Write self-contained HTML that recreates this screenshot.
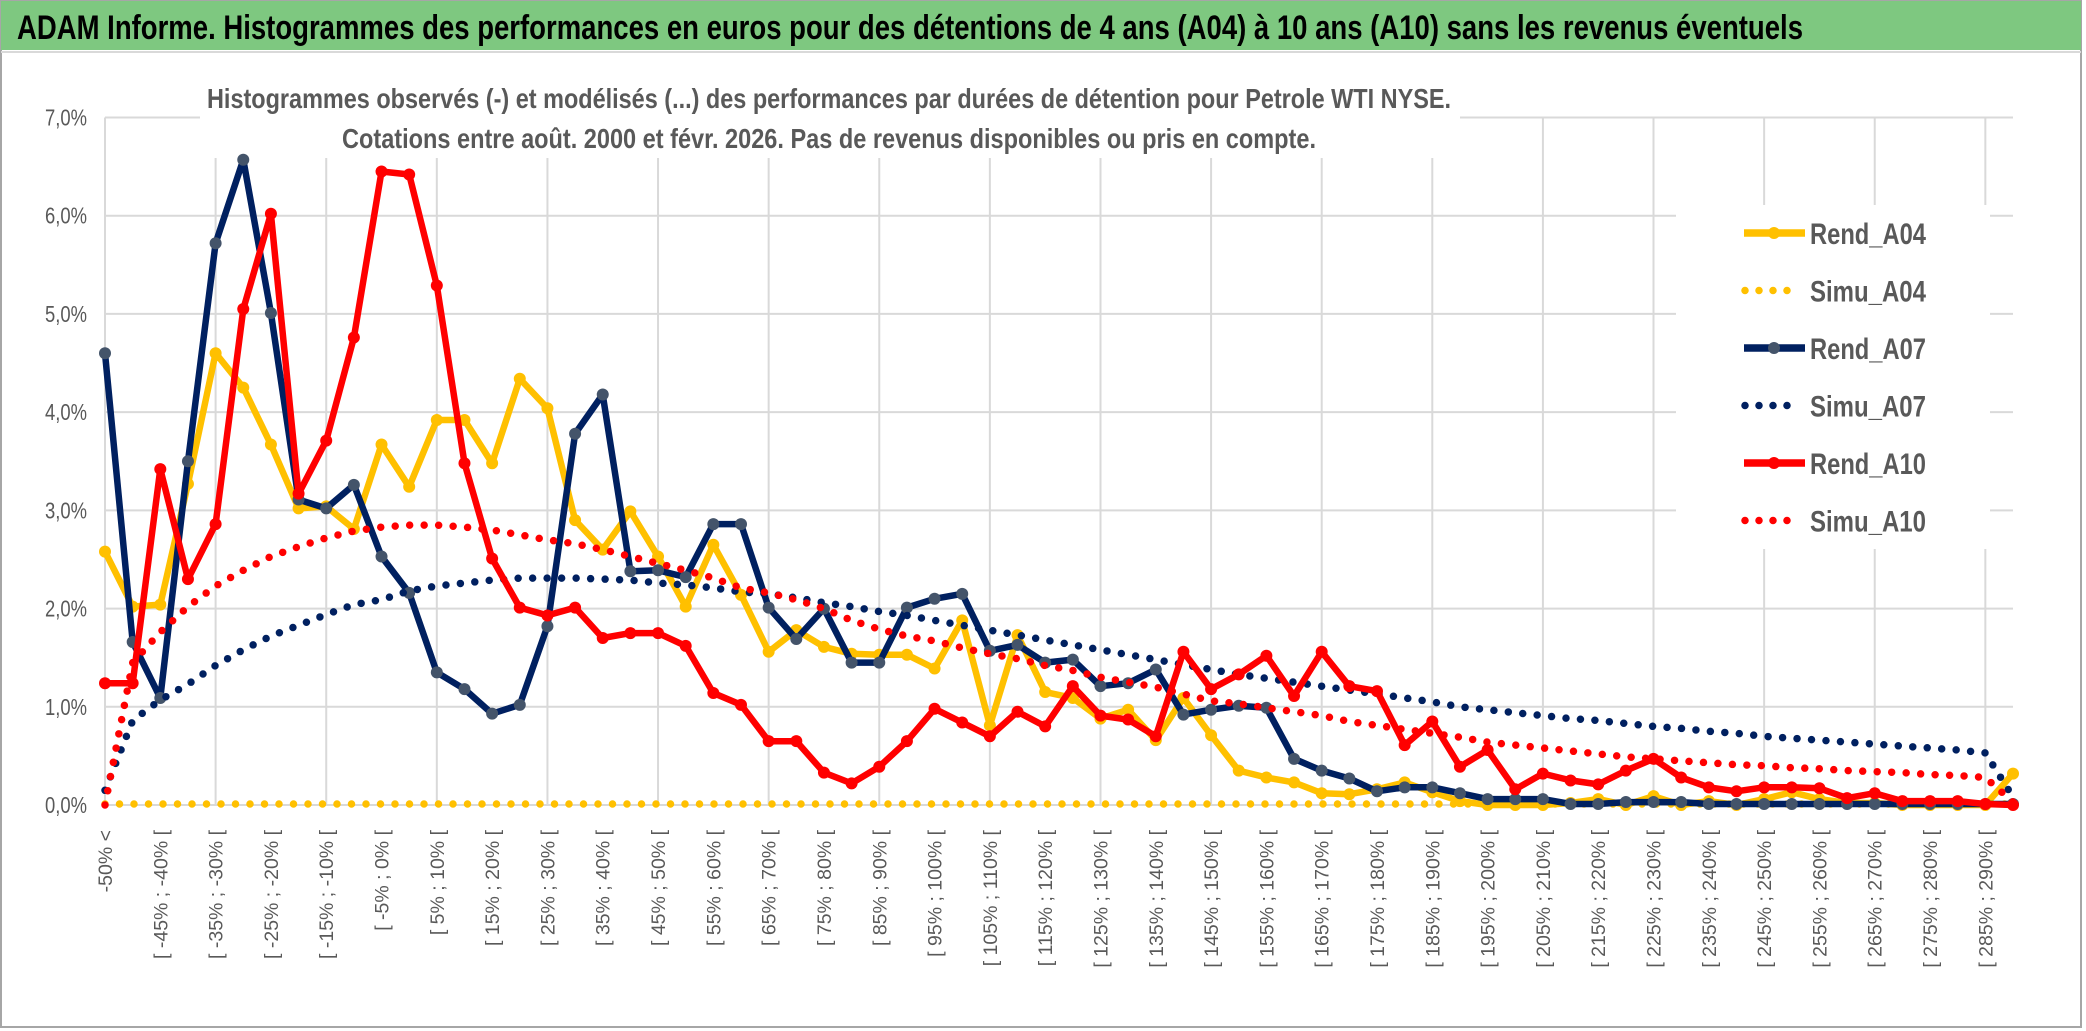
<!DOCTYPE html>
<html><head><meta charset="utf-8"><style>
html,body{margin:0;padding:0;background:#fff;}
svg{display:block;font-family:"Liberation Sans",sans-serif;}
</style></head><body>
<svg id="chart" width="2086" height="1031" viewBox="0 0 2086 1031" xmlns="http://www.w3.org/2000/svg">
<rect x="0" y="0" width="2086" height="1031" fill="#fff"/>
<rect x="1" y="1" width="2080" height="1026" fill="none" stroke="#a6a6a6" stroke-width="2"/>
<rect x="1" y="1" width="2080" height="49" fill="#7ec880"/>
<line x1="1" y1="52" x2="2081" y2="52" stroke="#d9d9d9" stroke-width="2"/>
<text x="17" y="39" font-size="34" font-weight="bold" fill="#000" textLength="1786" lengthAdjust="spacingAndGlyphs">ADAM Informe. Histogrammes des performances en euros pour des détentions de 4 ans (A04) à 10 ans (A10) sans les revenus éventuels</text>
<g id="grid"></g>
<rect x="200" y="60" width="1260" height="98" fill="#fff"/>
<text x="207" y="108" font-size="28" font-weight="bold" fill="#595959" textLength="1244" lengthAdjust="spacingAndGlyphs">Histogrammes observés (-) et modélisés (...) des performances par durées de détention pour Petrole WTI NYSE.</text>
<text x="342" y="148" font-size="28" font-weight="bold" fill="#595959" textLength="974" lengthAdjust="spacingAndGlyphs">Cotations entre août. 2000 et févr. 2026. Pas de revenus disponibles ou pris en compte.</text>
<rect x="1676" y="205" width="314" height="344" fill="#fff"/>
<g id="yaxis"></g>
<g id="xaxis"></g>
<g id="series"></g>
<g id="legend"></g>
</svg>
<script>
const rendA04 = [2.58,2.02,2.04,3.27,4.60,4.25,3.67,3.02,3.04,2.81,3.67,3.24,3.92,3.92,3.48,4.34,4.04,2.90,2.60,2.99,2.53,2.02,2.65,2.14,1.56,1.78,1.61,1.54,1.53,1.53,1.39,1.88,0.81,1.73,1.15,1.09,0.88,0.97,0.66,1.09,0.71,0.35,0.28,0.23,0.12,0.11,0.16,0.23,0.13,0.04,0.0,0.0,0.0,0.02,0.06,0.0,0.09,0.0,0.04,0.0,0.06,0.13,0.06,0.02,0.02,0.0,0.0,0.0,0.0,0.32];
const simuA04 = [0.01,0.01,0.01,0.01,0.01,0.01,0.01,0.01,0.01,0.01,0.01,0.01,0.01,0.01,0.01,0.01,0.01,0.01,0.01,0.01,0.01,0.01,0.01,0.01,0.01,0.01,0.01,0.01,0.01,0.01,0.01,0.01,0.01,0.01,0.01,0.01,0.01,0.01,0.01,0.01,0.01,0.01,0.01,0.01,0.01,0.01,0.01,0.01,0.01,0.01,0.01,0.01,0.01,0.01,0.01,0.01,0.01,0.01,0.01,0.01,0.01,0.01,0.01,0.01,0.01,0.01,0.01,0.01,0.01,0.01];
const rendA07 = [4.60,1.66,1.09,3.50,5.72,6.57,5.01,3.11,3.02,3.26,2.53,2.16,1.35,1.18,0.93,1.02,1.82,3.78,4.18,2.38,2.39,2.32,2.86,2.86,2.01,1.69,2.00,1.45,1.45,2.01,2.10,2.15,1.57,1.63,1.45,1.48,1.21,1.24,1.38,0.92,0.97,1.01,0.99,0.47,0.35,0.27,0.14,0.18,0.18,0.12,0.06,0.06,0.06,0.01,0.01,0.03,0.03,0.03,0.01,0.01,0.01,0.01,0.01,0.01,0.01,0.01,0.01,0.01,0.01,0.01];
const simuA07 = [0.15,0.86,1.07,1.23,1.42,1.58,1.72,1.83,1.94,2.04,2.09,2.18,2.23,2.26,2.29,2.31,2.31,2.31,2.30,2.29,2.26,2.24,2.21,2.17,2.15,2.11,2.06,2.02,1.97,1.93,1.88,1.83,1.78,1.73,1.68,1.63,1.58,1.53,1.48,1.43,1.38,1.33,1.29,1.25,1.21,1.17,1.13,1.09,1.05,1.00,0.97,0.94,0.91,0.88,0.86,0.83,0.80,0.78,0.75,0.73,0.70,0.68,0.66,0.64,0.62,0.60,0.58,0.56,0.53,0.08];
const rendA10 = [1.24,1.24,3.42,2.30,2.86,5.05,6.02,3.17,3.71,4.76,6.45,6.42,5.29,3.48,2.51,2.01,1.93,2.01,1.70,1.75,1.75,1.62,1.14,1.02,0.65,0.65,0.33,0.22,0.39,0.65,0.98,0.84,0.70,0.95,0.80,1.21,0.91,0.87,0.70,1.56,1.18,1.33,1.52,1.11,1.56,1.21,1.16,0.61,0.85,0.39,0.56,0.16,0.32,0.25,0.21,0.35,0.47,0.28,0.18,0.14,0.18,0.18,0.17,0.07,0.12,0.04,0.04,0.04,0.01,0.0];
const simuA10 = [0.0,1.45,1.76,2.02,2.23,2.39,2.53,2.63,2.72,2.79,2.83,2.85,2.85,2.83,2.80,2.75,2.70,2.66,2.60,2.53,2.46,2.39,2.31,2.21,2.16,2.09,2.00,1.88,1.79,1.72,1.67,1.60,1.54,1.49,1.42,1.37,1.30,1.25,1.20,1.13,1.06,1.03,0.99,0.95,0.91,0.85,0.81,0.77,0.73,0.69,0.64,0.61,0.58,0.55,0.52,0.49,0.47,0.45,0.43,0.41,0.40,0.38,0.37,0.35,0.34,0.33,0.31,0.30,0.28,0.03];
const yTicks = [0,1,2,3,4,5,6,7];
const yTickLabels = ["0,0%","1,0%","2,0%","3,0%","4,0%","5,0%","6,0%","7,0%"];
const categories = ["-50% <"];
for (let k = 1; k < 70; k++) categories.push("[ " + (-55 + 5 * k) + "% ; " + (-50 + 5 * k) + "% [");

const NS = "http://www.w3.org/2000/svg";
const X0 = 105, X1 = 2013, Y0 = 805, Y7 = 117.5;
function xPos(i) { return X0 + i * (X1 - X0) / (categories.length - 1); }
function yPos(v) { return Y0 - v * (Y0 - Y7) / 7; }
function mk(tag, attrs, parent) { const e = document.createElementNS(NS, tag); for (const k in attrs) e.setAttribute(k, attrs[k]); parent.appendChild(e); return e; }

const grid = document.getElementById('grid');
yTicks.forEach((t) => {
  const l = mk('line', {x1: X0, x2: X1, y1: yPos(t), y2: yPos(t), stroke: '#d9d9d9', 'stroke-width': 2}, grid);
  
  
});
for (let i = 0; i < categories.length; i += 4) {
  const l = mk('line', {x1: xPos(i), x2: xPos(i), y1: Y7, y2: Y0, stroke: '#d9d9d9', 'stroke-width': 2}, grid);
  
  
}

const yaxis = document.getElementById('yaxis');
yTicks.forEach((t, i) => {
  const tx = mk('text', {x: 87, y: yPos(t) + 8, 'font-size': 23, fill: '#595959', 'text-anchor': 'end', textLength: 42, lengthAdjust: 'spacingAndGlyphs'}, yaxis);
  tx.textContent = yTickLabels[i];
  
  
});

const xaxis = document.getElementById('xaxis');
for (let i = 0; i < categories.length; i += 2) {
  const x = xPos(i) + 7;
  const tx = mk('text', {x: x, y: 830, 'font-size': 19.5, fill: '#595959', 'text-anchor': 'end', transform: 'rotate(-90 ' + x + ' 830)'}, xaxis);
  tx.textContent = categories[i];
  
  
}

const series = document.getElementById('series');
function pts(arr) { return arr.map((v, i) => xPos(i).toFixed(1) + ',' + yPos(v).toFixed(1)).join(' '); }
function solid(arr, color, marker, name) {
  const g = mk('g', {}, series);
  
  
  const pl = mk('polyline', {points: pts(arr), fill: 'none', stroke: color, 'stroke-width': 6.5, 'stroke-linejoin': 'round'}, g);
  
  
  arr.forEach((v, i) => {
    const c = mk('circle', {cx: xPos(i), cy: yPos(v), r: 6, fill: marker}, g);
    
    
  });
}
function dotted(arr, color, name) {
  const pl = mk('polyline', {points: pts(arr), fill: 'none', stroke: color, 'stroke-width': 7.5, 'stroke-linecap': 'round', 'stroke-dasharray': '0 14.5'}, series);
  
  
}
solid(rendA04, '#ffc000', '#ffc000', 'rend-a04');
dotted(simuA04, '#ffc000', 'simu-a04');
solid(rendA07, '#002060', '#44546a', 'rend-a07');
dotted(simuA07, '#002060', 'simu-a07');
solid(rendA10, '#ff0000', '#ff0000', 'rend-a10');
dotted(simuA10, '#ff0000', 'simu-a10');

const legendNames = ["Rend_A04","Simu_A04","Rend_A07","Simu_A07","Rend_A10","Simu_A10"];
const legendColors = ["#ffc000","#ffc000","#002060","#002060","#ff0000","#ff0000"];
const legend = document.getElementById('legend');
legendNames.forEach((n, i) => {
  const y = 233 + i * 57.5;
  const g = mk('g', {}, legend);
  
  
  if (i % 2 === 0) {
    mk('line', {x1: 1744, x2: 1805, y1: y, y2: y, stroke: legendColors[i], 'stroke-width': 7.5}, g);
    mk('circle', {cx: 1774, cy: y, r: 6, fill: i === 2 ? '#44546a' : legendColors[i]}, g);
  } else {
    mk('line', {x1: 1745, x2: 1800, y1: y, y2: y, stroke: legendColors[i], 'stroke-width': 7.5, 'stroke-linecap': 'round', 'stroke-dasharray': '0 14'}, g);
  }
  const t = mk('text', {x: 1810, y: y + 11, 'font-size': 30, 'font-weight': 'bold', fill: '#595959', textLength: 116, lengthAdjust: 'spacingAndGlyphs'}, g);
  t.textContent = n;
});
</script>
</body></html>
